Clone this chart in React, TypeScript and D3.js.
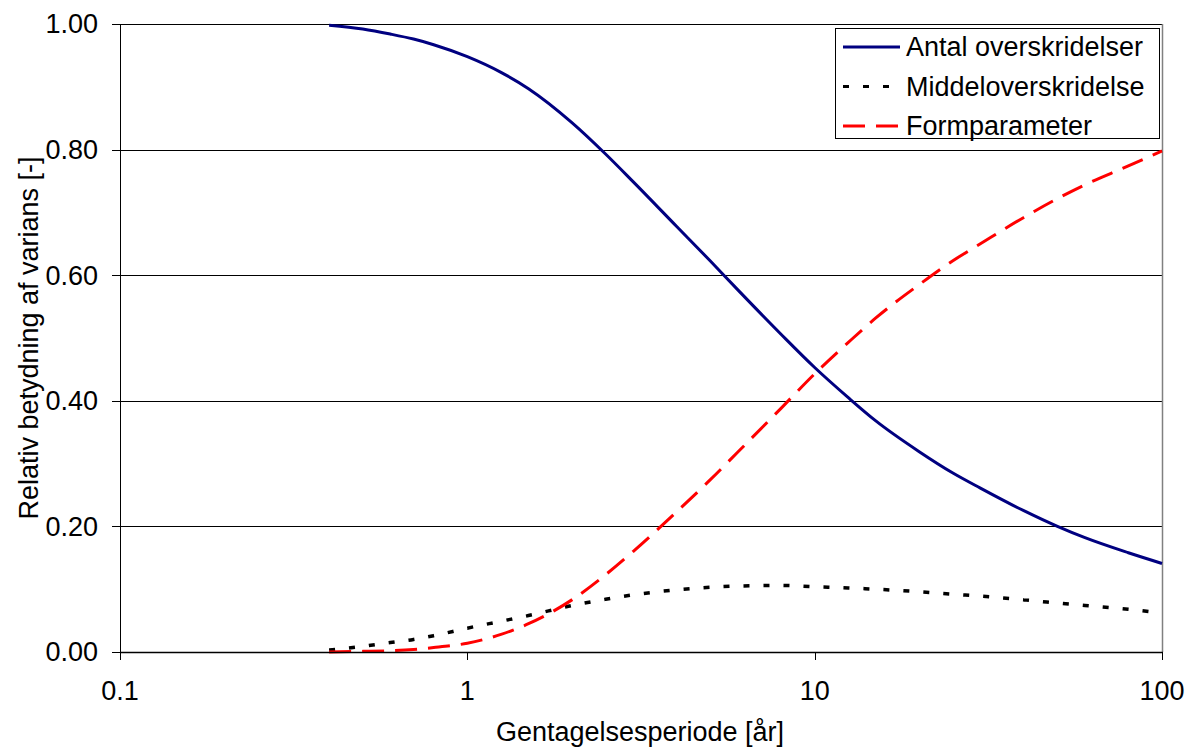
import * as d3 from "d3";
import React from "react";

// return periods [years]
const periods = [0.4, 0.5, 0.6, 0.7, 0.8, 1, 1.25, 1.5, 2, 2.5, 3, 4, 5, 6, 8, 10, 12.5, 15, 20, 25, 30, 40, 50, 60, 80, 100];
const antal = [0.998, 0.992, 0.984, 0.976, 0.967, 0.948, 0.923, 0.897, 0.843, 0.793, 0.749, 0.678, 0.623, 0.577, 0.506, 0.453, 0.405, 0.368, 0.319, 0.285, 0.261, 0.225, 0.2, 0.182, 0.158, 0.141];
const middel = [0.003, 0.009, 0.015, 0.02, 0.026, 0.038, 0.049, 0.058, 0.074, 0.084, 0.091, 0.099, 0.103, 0.105, 0.106, 0.104, 0.102, 0.1, 0.096, 0.092, 0.089, 0.083, 0.078, 0.074, 0.068, 0.062];
const formpar = [0.0, 0.001, 0.002, 0.004, 0.007, 0.014, 0.028, 0.045, 0.083, 0.123, 0.16, 0.223, 0.274, 0.318, 0.388, 0.443, 0.493, 0.532, 0.585, 0.623, 0.65, 0.692, 0.722, 0.744, 0.774, 0.798];

const xTicks = [0.1, 1, 10, 100];
const yTicks = [0, 0.2, 0.4, 0.6, 0.8, 1.0];

const seriesNames = ["Antal overskridelser", "Middeloverskridelse", "Formparameter"];
const seriesColors = ["#000080", "#000000", "#ff0000"];
const seriesDash = [null, "6,14", "22,11"];
const seriesValues = [antal, middel, formpar];

export default function App() {
  const W = 1188, H = 747;
  const left = 120, right = 1162, top = 24, bottom = 652;
  const font = "'Liberation Sans', Arial, sans-serif";
  const fs = 27;

  const x = d3.scaleLog().domain([0.1, 100]).range([left, right]);
  const y = d3.scaleLinear().domain([0, 1]).range([bottom, top]);

  const line = d3.line<[number, number]>()
    .x(d => x(d[0]))
    .y(d => y(d[1]))
    .curve(d3.curveMonotoneX);

  return (
    <svg width={W} height={H} style={{ position: "absolute", left: 0, top: 0, background: "#fff" }} fontFamily={font}>
      {/* gridlines */}
      {yTicks.map(t => (
        <line key={"g" + t} x1={left} x2={right} y1={Math.round(y(t)) + 0.5} y2={Math.round(y(t)) + 0.5} stroke="#000" strokeWidth={1} />
      ))}
      <line x1={right + 0.5} x2={right + 0.5} y1={top} y2={bottom} stroke="#808080" strokeWidth={1.5} />

      {/* series */}
      {seriesValues.map((vals, i) => (
        <path key={seriesNames[i]}
          d={line(periods.map((p, j) => [p, vals[j]] as [number, number])) || ""}
          fill="none" stroke={seriesColors[i]} strokeWidth={i === 1 ? 3.5 : 3}
          strokeDasharray={seriesDash[i] || undefined} />
      ))}

      {/* axes */}
      <line x1={left + 0.5} x2={left + 0.5} y1={top} y2={bottom + 1} stroke="#000" strokeWidth={1} />
      <line x1={left} x2={right + 1} y1={bottom + 0.5} y2={bottom + 0.5} stroke="#000" strokeWidth={1.5} />
      {yTicks.map(t => (
        <g key={"y" + t}>
          <line x1={left - 8} x2={left} y1={Math.round(y(t)) + 0.5} y2={Math.round(y(t)) + 0.5} stroke="#000" />
          <text x={98} y={y(t)} dy="0.35em" textAnchor="end" fontSize={fs}>{t.toFixed(2)}</text>
        </g>
      ))}
      {xTicks.map(t => (
        <g key={"x" + t}>
          <line x1={Math.round(x(t)) + 0.5} x2={Math.round(x(t)) + 0.5} y1={bottom} y2={bottom + 8} stroke="#000" />
          <text x={x(t)} y={700} textAnchor="middle" fontSize={fs}>{String(t)}</text>
        </g>
      ))}

      <text x={640} y={741} textAnchor="middle" fontSize={fs}>Gentagelsesperiode [år]</text>
      <text transform={`translate(38,338) rotate(-90)`} textAnchor="middle" fontSize={fs}>Relativ betydning af varians [-]</text>

      {/* legend */}
      <rect x={835.5} y={28.5} width={324} height={110} fill="#fff" stroke="#000" strokeWidth={1} />
      {seriesNames.map((n, i) => {
        const ly = 47 + i * 39.5;
        return (
          <g key={"l" + n}>
            <line x1={843} x2={900} y1={ly} y2={ly} stroke={seriesColors[i]} strokeWidth={3} strokeDasharray={seriesDash[i] || undefined} />
            <text x={906} y={ly} dy="0.35em" fontSize={fs}>{n}</text>
          </g>
        );
      })}
    </svg>
  );
}
